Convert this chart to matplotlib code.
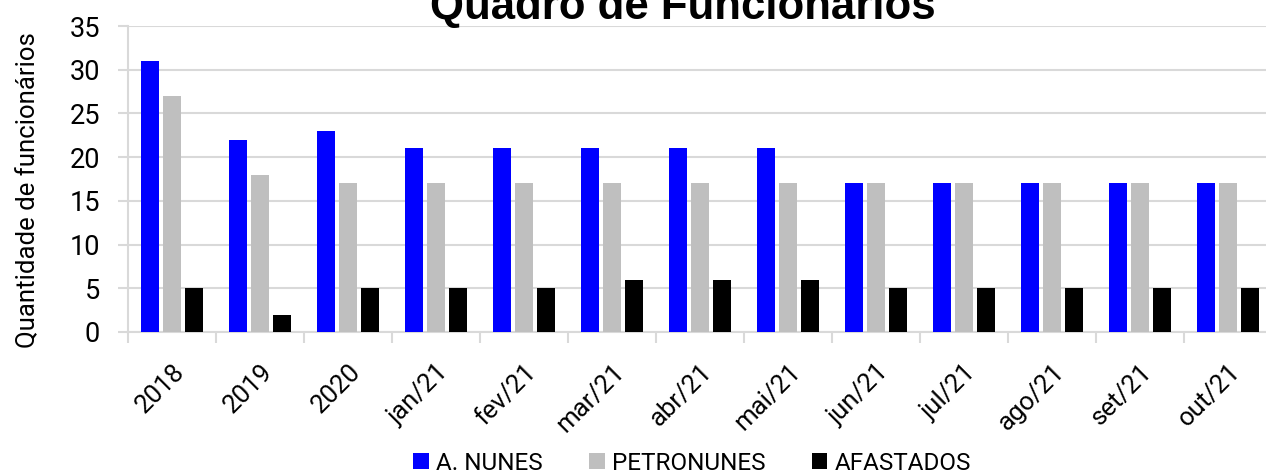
import numpy as np
import matplotlib
matplotlib.use("Agg")
import matplotlib.pyplot as plt
import matplotlib.transforms as mtransforms
from matplotlib.ticker import FixedLocator, NullFormatter

# data
categories = ["2018", "2019", "2020", "jan/21", "fev/21", "mar/21", "abr/21",
              "mai/21", "jun/21", "jul/21", "ago/21", "set/21", "out/21"]
a_nunes = [31, 22, 23, 21, 21, 21, 21, 21, 17, 17, 17, 17, 17]
petronunes = [27, 18, 17, 17, 17, 17, 17, 17, 17, 17, 17, 17, 17]
afastados = [5, 2, 5, 5, 5, 6, 6, 6, 5, 5, 5, 5, 5]
series_names = ["A. NUNES", "PETRONUNES", "AFASTADOS"]
series_colors = ["#0000FF", "#BFBFBF", "#000000"]

plt.rcParams["font.family"] = ["Roboto", "DejaVu Sans"]

W, H = 1266, 474
fig = plt.figure(figsize=(W / 100, H / 100), dpi=100)
# plot area: x 128..1272 px, y 26..332 px (extends past right edge like the source)
ax = fig.add_axes([128 / W, (H - 332) / H, 1144 / W, 306 / H])

grid_col = "#D9D9D9"
x = np.arange(len(categories))
width = 0.2
offsets = [-0.25, 0.0, 0.25]
for vals, name, col, off in zip([a_nunes, petronunes, afastados],
                                series_names, series_colors, offsets):
    ax.bar(x + off, vals, width, color=col, label=name, zorder=3)

ax.set_xlim(-0.5, len(categories) - 0.5)
ax.set_ylim(0, 35)
ax.set_yticks(np.arange(0, 36, 5))
ax.yaxis.grid(True, color=grid_col, linewidth=1.5, zorder=0)
ax.set_axisbelow(True)

for s in ["top", "right"]:
    ax.spines[s].set_visible(False)
for s in ["left", "bottom"]:
    ax.spines[s].set_color(grid_col)
    ax.spines[s].set_linewidth(1.5)

# category labels centered, tick marks on the boundaries
ax.set_xticks(x)
ax.set_xticklabels(categories, rotation=45, ha="right", rotation_mode="anchor",
                   fontsize=18.5)
shift = mtransforms.ScaledTranslation(-5 / 100, 0, fig.dpi_scale_trans)
for lbl in ax.get_xticklabels():
    lbl.set_transform(lbl.get_transform() + shift)
ax.tick_params(axis="x", which="major", length=0, pad=20)
ax.xaxis.set_minor_locator(FixedLocator(np.arange(-0.5, len(categories), 1)))
ax.xaxis.set_minor_formatter(NullFormatter())
ax.tick_params(axis="x", which="minor", length=8, width=1.5, color=grid_col)
ax.tick_params(axis="y", length=7, width=1.5, color=grid_col, labelsize=19.5, pad=13)

ax.set_ylabel("Quantidade de funcionários", fontsize=18.5)
ax.yaxis.set_label_coords(-0.077, 0.464)

fig.text(683 / W, (H - 19) / H, "Quadro de Funcionários", ha="center",
         va="baseline", fontsize=31.5, fontweight="bold", family="Liberation Sans")

ax.legend(loc="center", bbox_to_anchor=(692 / W, (H - 463) / H),
          bbox_transform=fig.transFigure, ncol=3, frameon=False, fontsize=17.5,
          handlelength=0.65, handleheight=0.65, handletextpad=0.3, columnspacing=1.9)

fig.savefig("out.png", dpi=100)
